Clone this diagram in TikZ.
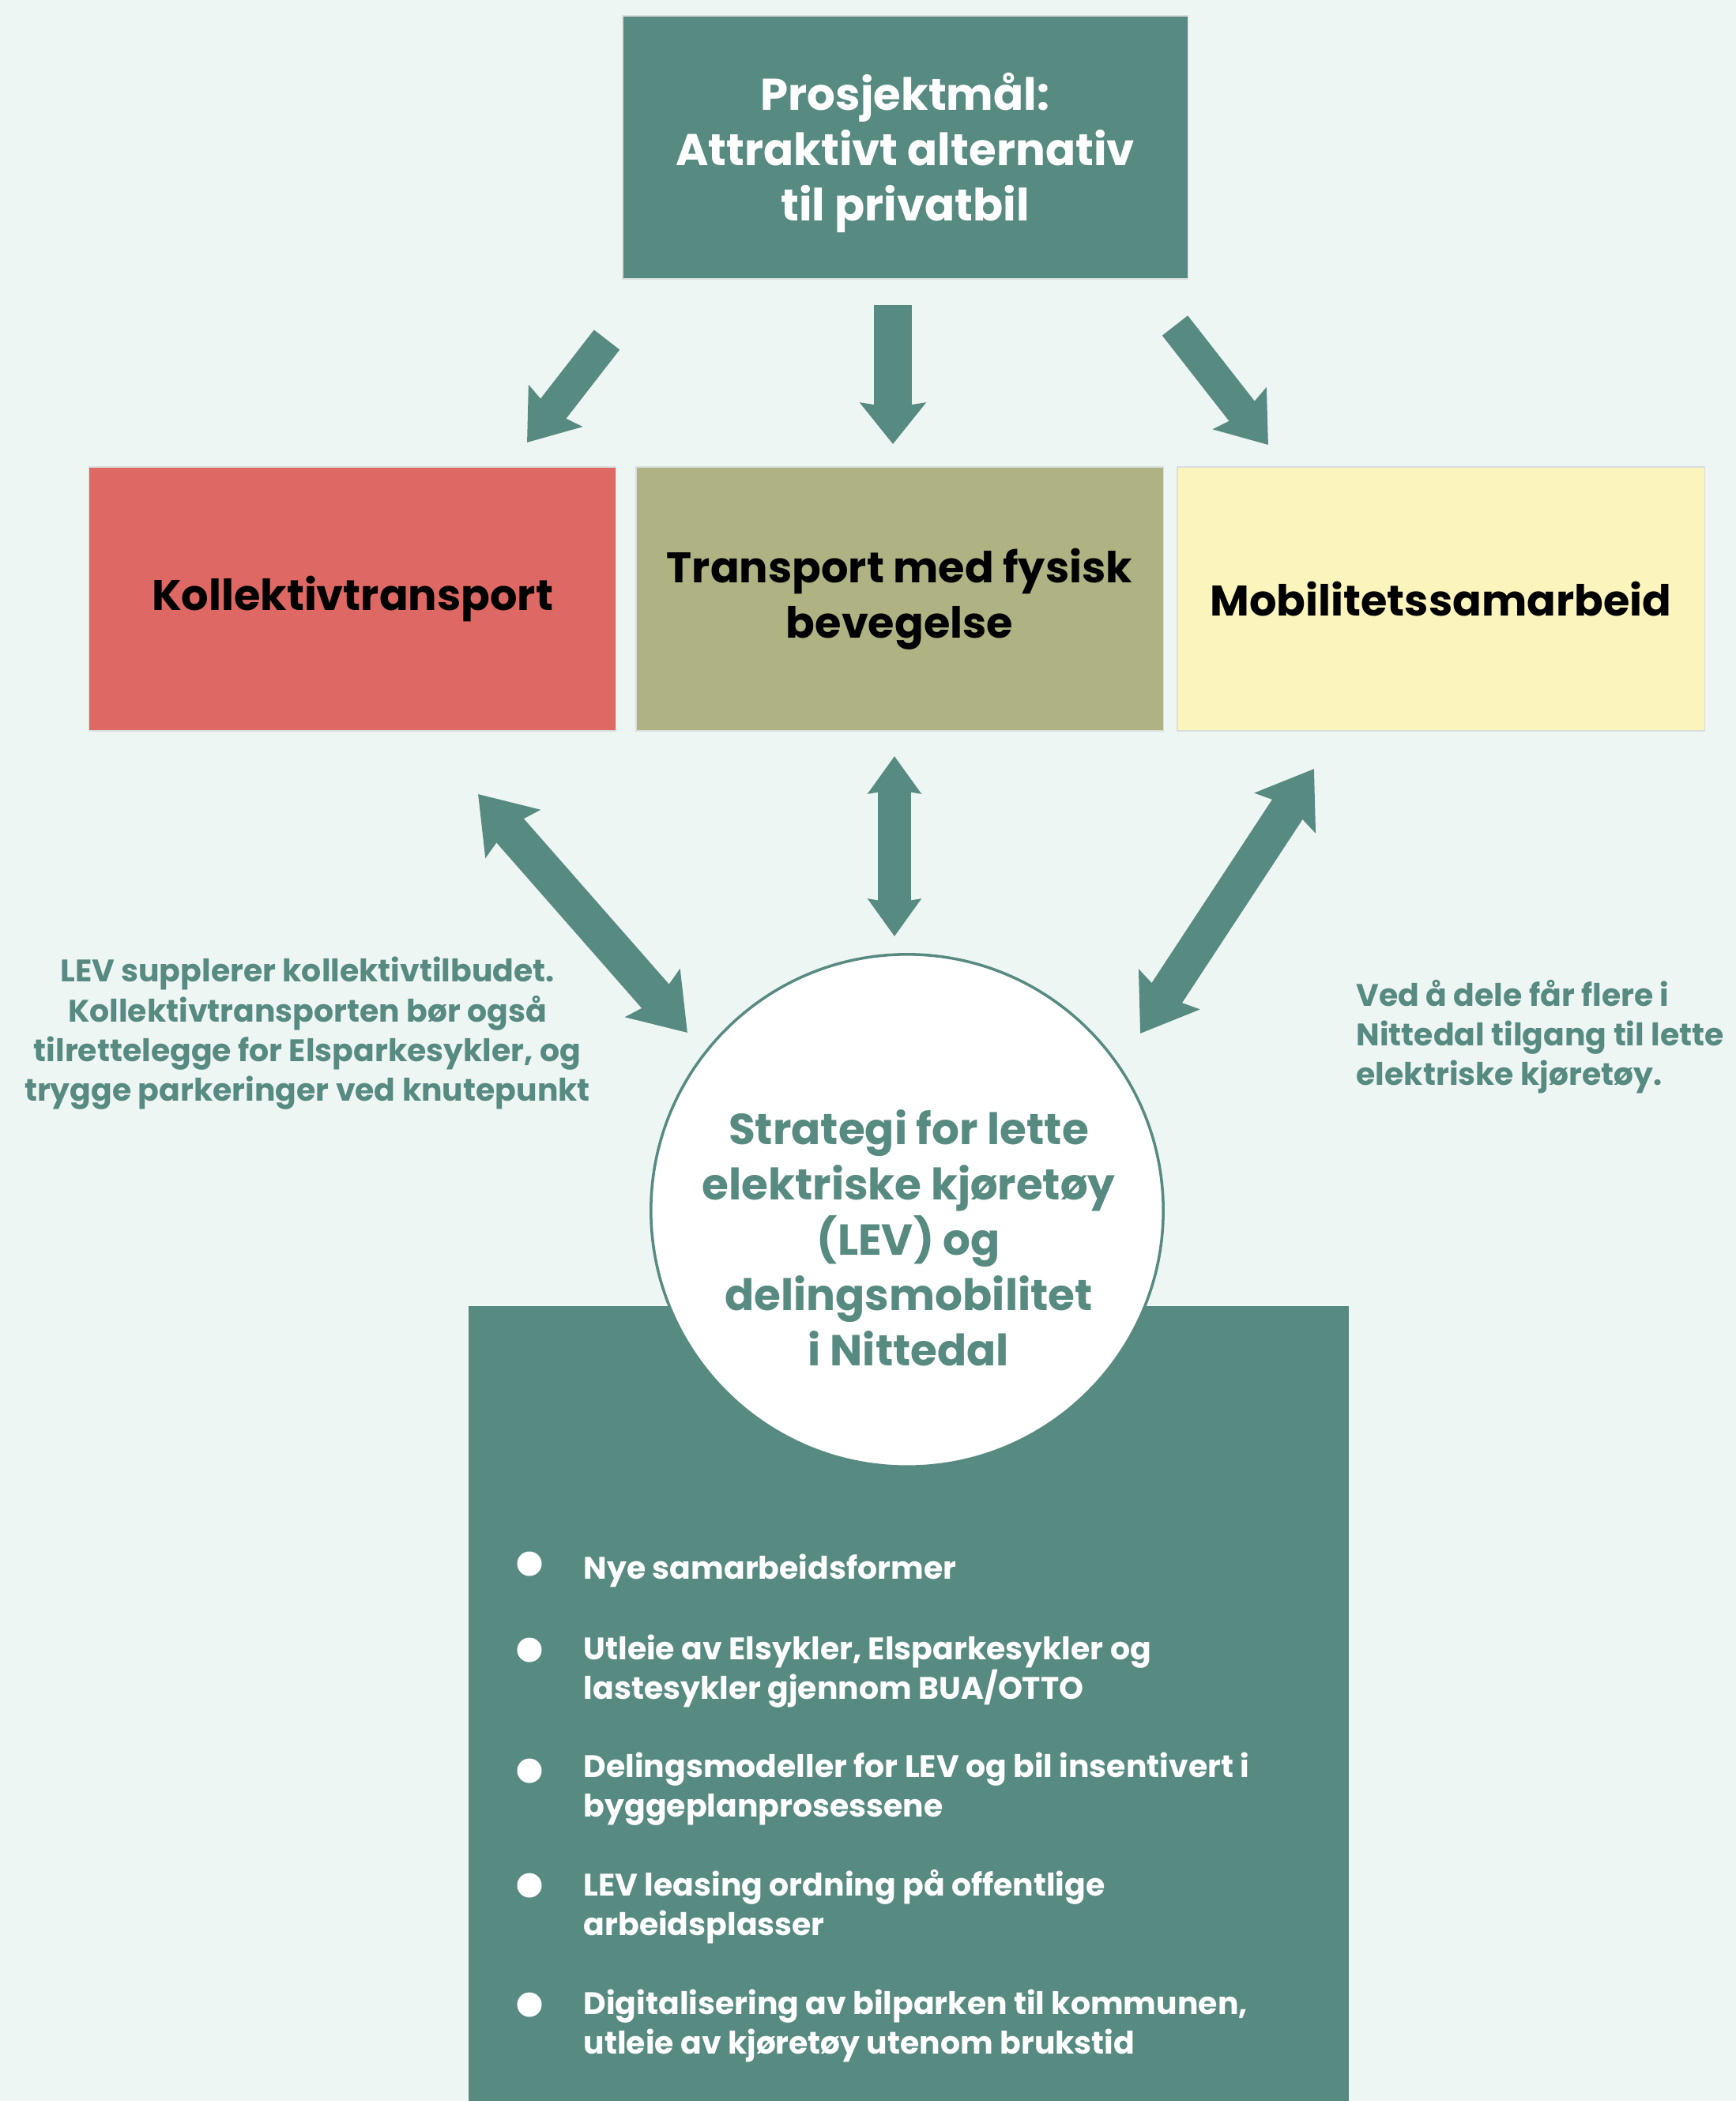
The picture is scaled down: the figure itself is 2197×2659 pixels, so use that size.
\documentclass[tikz,border=0pt]{standalone}
\usepackage{fontspec}
\setmainfont{Poppins}
\usetikzlibrary{arrows.meta}

\definecolor{bgmint}{HTML}{EEF6F3}
\definecolor{deepteal}{HTML}{578A81}
\definecolor{coral}{HTML}{DE6964}
\definecolor{olive}{HTML}{AFB383}
\definecolor{paleyellow}{HTML}{FBF5BD}
\definecolor{edgegrey}{HTML}{D9DEDC}

\begin{document}
\begin{tikzpicture}[x=0.01cm, y=-0.01cm,
  bigtext/.style={font=\bfseries\fontsize{16pt}{19.9pt}\selectfont},
  cattext/.style={font=\bfseries\fontsize{15.4pt}{19.9pt}\selectfont},
  hubfont/.style={font=\bfseries\fontsize{15.6pt}{19.9pt}\selectfont},
  smalltext/.style={font=\bfseries\fontsize{11.2pt}{14.3pt}\selectfont},
  goalbox/.style={rectangle, fill=deepteal, draw=edgegrey, line width=0.4pt,
    inner sep=0pt},
  catbox/.style={rectangle, draw=edgegrey, line width=0.4pt, text=black,
    cattext, align=center, inner sep=0pt,
    minimum width=6.67cm, minimum height=3.34cm},
  fatarrow/.style={draw=deepteal, line width=#1},
  note/.style={text=deepteal, smalltext, inner sep=0pt},
  dot/.style={circle, fill=white, minimum size=0.31cm, inner sep=0pt},
  item/.style={text=white, smalltext, align=left, anchor=west, inner sep=0pt}]

% background and page frame
\fill[bgmint] (0,0) rectangle (2197,2659);
\useasboundingbox (0,0) rectangle (2197,2659);

% project goal
\node[goalbox, minimum width=7.15cm, minimum height=3.33cm,
  label={[text=white, bigtext, align=center, yshift=-0.07cm]center:{Prosjektmål:\\Attraktivt alternativ\\til privatbil}}]
  (goal) at (1145.5,186.5) {};

% three focus areas
\node[catbox, fill=coral] (kollektiv) at (446,758) {Kollektivtransport};
\node[catbox, fill=olive] (fysisk) at (1138.5,758) {Transport med fysisk\\bevegelse};
\node[catbox, fill=paleyellow] (mobilitet) at (1823.5,758) {Mobilitetssamarbeid};

% arrow end points
\coordinate (gl) at (768,430);  \coordinate (kl) at (667,560);
\coordinate (gc) at (1130,386); \coordinate (kc) at (1130,562);
\coordinate (gr) at (1487,412); \coordinate (kr) at (1605,563);
\coordinate (al) at (605,1005); \coordinate (bl) at (870,1307);
\coordinate (ac) at (1132,957); \coordinate (bc) at (1132,1185);
\coordinate (ar) at (1663,973); \coordinate (br) at (1443,1308);

% arrows from the goal to the focus areas
\draw[fatarrow=0.41cm, -{Stealth[length=0.58cm, width=0.84cm, inset=0.08cm]}] (gl) -- (kl);
\draw[fatarrow=0.47cm, -{Stealth[length=0.52cm, width=0.82cm, inset=0.06cm]}] (gc) -- (kc);
\draw[fatarrow=0.41cm, -{Stealth[length=0.58cm, width=0.84cm, inset=0.08cm]}] (gr) -- (kr);

% two-way arrows between the focus areas and the strategy
\draw[fatarrow=0.46cm, {Stealth[length=0.66cm, width=0.9cm, inset=0.1cm]}-{Stealth[length=0.66cm, width=0.9cm, inset=0.1cm]}] (al) -- (bl);
\draw[fatarrow=0.42cm, {Stealth[length=0.47cm, width=0.66cm, inset=0.05cm]}-{Stealth[length=0.47cm, width=0.66cm, inset=0.05cm]}] (ac) -- (bc);
\draw[fatarrow=0.46cm, {Stealth[length=0.66cm, width=0.9cm, inset=0.1cm]}-{Stealth[length=0.66cm, width=0.9cm, inset=0.1cm]}] (ar) -- (br);

% side notes
\node[note, align=center] (noteleft) at (389,1308)
  {LEV supplerer kollektivtilbudet.\\Kollektivtransporten bør også\\tilrettelegge for Elsparkesykler, og\\trygge parkeringer ved knutepunkt};
\node[note, align=left, anchor=west] (noteright) at (1716,1312)
  {Ved å dele får flere i\\Nittedal tilgang til lette\\elektriske kjøretøy.};

% measures panel
\fill[deepteal] (593,1653) rectangle (1707,2659);

% strategy circle
\node[circle, draw=deepteal, line width=1pt, fill=white, minimum size=6.48cm, inner sep=0pt] (hub) at (1148,1532) {};
\node[text=deepteal, hubfont, align=center, inner sep=0pt] (hubtext) at (1150,1567)
  {Strategi for lette\\elektriske kjøretøy\\(LEV) og\\delingsmobilitet\\i Nittedal};

% bullet list
\node[dot] (d1) at (670,1979) {};
\node[dot] (d2) at (670,2088) {};
\node[dot] (d3) at (670,2241) {};
\node[dot] (d4) at (670,2386) {};
\node[dot] (d5) at (670,2537) {};
\node[item] (t1) at (738,1988) {Nye samarbeidsformer};
\node[item] (t2) at (738,2115) {Utleie av Elsykler, Elsparkesykler og\\lastesykler gjennom BUA/OTTO};
\node[item] (t3) at (738,2264) {Delingsmodeller for LEV og bil insentivert i\\byggeplanprosessene};
\node[item] (t4) at (738,2413) {LEV leasing ordning på offentlige\\arbeidsplasser};
\node[item] (t5) at (738,2564) {Digitalisering av bilparken til kommunen,\\utleie av kjøretøy utenom brukstid};
\end{tikzpicture}
\end{document}
